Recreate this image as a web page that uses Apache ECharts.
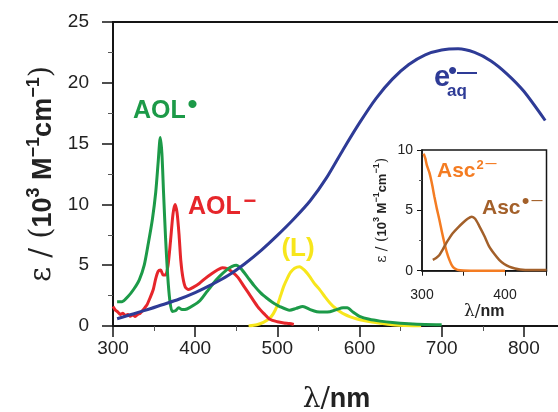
<!DOCTYPE html>
<html><head><meta charset="utf-8">
<script src="https://cdn.jsdelivr.net/npm/echarts@6/dist/echarts.min.js"></script>
<style>html,body{margin:0;padding:0;background:#fff}#c{width:558px;height:412px}</style>
</head><body><div id="c"></div>
<script>
// ---- data (wavelength nm, epsilon 10^3 M^-1 cm^-1) ----
const eaq = [[305,0.6],[320,0.9],[340,1.3],[360,1.75],[380,2.2],[400,2.75],[420,3.4],[440,4.15],[460,5.1],[480,6.2],[500,7.45],[520,8.8],[540,10.3],[560,12.2],[580,14.5],[600,16.7],[620,18.7],[640,20.3],[660,21.5],[680,22.3],[700,22.7],[720,22.8],[740,22.5],[760,21.8],[780,20.7],[800,19.3],[826,16.9]];
const aolRadical = [[305,2.0],[311,2.0],[318,2.4],[325,3.0],[332,3.8],[338,5.0],[343,6.8],[348,8.8],[352,11.0],[355,13.5],[357.5,15.5],[359.5,14.2],[361.5,11.0],[364,7.2],[366.5,4.2],[369,2.2],[372,1.2],[376,1.25],[380,1.5],[384,1.35],[390,1.4],[398,1.7],[406,2.1],[414,2.8],[422,3.5],[430,4.1],[438,4.6],[445,4.9],[450,5.0],[456,4.7],[464,4.0],[472,3.3],[480,2.7],[487,2.3],[493,2.0],[503,1.6],[515,1.3],[523,1.45],[531,1.6],[540,1.35],[548,1.18],[556,1.15],[564,1.18],[572,1.35],[580,1.5],[585,1.5],[592,1.15],[600,0.8],[612,0.55],[625,0.4],[640,0.28],[660,0.18],[680,0.12],[700,0.1]];
const aolAnion = [[300,1.6],[303,1.3],[306,1.15],[309,0.95],[312,1.05],[315,0.85],[318,0.95],[321,0.8],[324,0.92],[327,0.78],[330,0.95],[333,1.05],[337,1.35],[341,1.7],[345,2.3],[349,3.0],[352,3.9],[355,4.5],[358,4.6],[361,4.2],[364,4.2],[367,5.0],[370,7.0],[373,9.2],[375.5,10.0],[378,9.3],[380.5,7.4],[382.5,5.4],[385,4.0],[388,3.2],[392,3.0],[398,3.2],[405,3.5],[412,3.9],[420,4.3],[427,4.6],[433,4.8],[439,4.72],[445,4.45],[452,4.0],[460,3.2],[468,2.4],[476,1.6],[484,1.0],[491,0.55],[500,0.35],[508,0.25],[515,0.2],[520,0.12]];
const ligand = [[465,0],[475,0.1],[483,0.3],[490,0.6],[495,1.0],[500,1.7],[504,2.5],[508,3.3],[512,3.9],[516,4.4],[521,4.75],[527,4.88],[533,4.6],[539,4.1],[545,3.5],[552,2.95],[558,2.4],[564,1.9],[570,1.5],[576,1.2],[582,0.95],[588,0.77],[596,0.6],[605,0.45],[615,0.32],[625,0.22],[640,0.1],[660,0.03],[675,0]];
// inset
const ascDianion = [[302,9.7],[304,9.3],[306,8.7],[309,8.1],[312,7.2],[315,6.1],[318,5.1],[321,4.2],[324,3.2],[327,2.3],[330,1.5],[333,0.9],[336,0.45],[339,0.2],[343,0.07],[350,0.02],[370,0],[400,0]];
const ascRadical = [[313,0.9],[317,1.05],[321,1.3],[325,1.75],[329,2.27],[333,2.7],[337,3.1],[343,3.55],[349,3.95],[355,4.3],[360,4.47],[364,4.3],[369,3.7],[375,2.9],[381,2.0],[387,1.4],[393,0.9],[399,0.55],[405,0.33],[412,0.18],[418,0.1],[430,0.05],[450,0.05]];
const mainXLabels = [300,400,500,600,700,800];
const mainYLabels = [0,5,10,15,20,25];
const insetXLabels = [300,400];
const insetYLabels = [0,5,10];

const C = {blue:'#2e3b96', green:'#1c9a48', red:'#e6262b', yellow:'#f7e61c', orange:'#f47c22', brown:'#a3602a', axis:'#151515', text:'#222'};
const FF = 'Liberation Sans, Arial, Helvetica, sans-serif';

const chart = echarts.init(document.getElementById('c'), null, {renderer:'canvas'});

function lineSeries(data, color, xi, w){
  return {type:'line', data:data, xAxisIndex:xi, yAxisIndex:xi, showSymbol:false, smooth:0.25,
    lineStyle:{color:color, width:w}, itemStyle:{color:color}, silent:true, animation:false};
}
function txt(x, y, text, size, color, weight, align){
  return {type:'text', x:x, y:y, z:100, silent:true,
    style:{text:text, fill:color, fontSize:size, fontWeight:weight||'bold', fontFamily:FF,
      align:align||'left', verticalAlign:'middle', textAlign:align||'left', textVerticalAlign:'middle'}};
}

const axisLineStyle = {color:C.axis, width:2};
chart.setOption({
  animation:false,
  backgroundColor:'#fff',
  textStyle:{fontFamily:FF},
  grid:[
    {left:113, right:-2, top:22, bottom:86, show:true, borderColor:C.axis, borderWidth:2, backgroundColor:'transparent', containLabel:false, outerBoundsMode:'none'},
    {left:422, width:124.5, top:150, height:120.7, show:true, borderColor:C.axis, borderWidth:1.5, backgroundColor:'transparent', containLabel:false, outerBoundsMode:'none'}
  ],
  xAxis:[
    {type:'value', gridIndex:0, min:300, max:844, interval:100,
      axisLine:{lineStyle:axisLineStyle}, splitLine:{show:false},
      axisTick:{length:11, lineStyle:{color:C.axis, width:1.5}},
      minorTick:{show:true, splitNumber:2, length:5, lineStyle:{color:'#555', width:1}},
      axisLabel:{fontSize:19, color:C.text, margin:13, fontFamily:FF,
        formatter:v => mainXLabels.indexOf(v) >= 0 ? String(v) : ''},
      name:'{r|λ/}{b|nm}', nameLocation:'middle', nameGap:60,
      nameTextStyle:{rich:{r:{fontSize:28, fontFamily:'DejaVu Serif, serif', color:C.text}, b:{fontSize:27, fontWeight:'bold', fontFamily:FF, color:C.text}}}},
    {type:'value', gridIndex:1, min:300, max:450, interval:50,
      axisLine:{lineStyle:{color:C.axis, width:1.5}}, splitLine:{show:false},
      axisTick:{length:5, lineStyle:{color:C.axis, width:1}},
      axisLabel:{fontSize:14, color:C.text, margin:17, fontFamily:FF,
        formatter:v => insetXLabels.indexOf(v) >= 0 ? String(v) : ''},
      name:'{r|λ/}{b|nm}', nameLocation:'middle', nameGap:28,
      nameTextStyle:{rich:{r:{fontSize:17, fontFamily:'DejaVu Serif, serif', color:C.text}, b:{fontSize:16, fontWeight:'bold', fontFamily:FF, color:C.text}}}}
  ],
  yAxis:[
    {type:'value', gridIndex:0, min:0, max:25, interval:5,
      axisLine:{show:true, lineStyle:axisLineStyle}, splitLine:{show:false},
      axisTick:{show:true, length:11, lineStyle:{color:C.axis, width:1.5}},
      minorTick:{show:true, splitNumber:2, length:5, lineStyle:{color:'#555', width:1}},
      axisLabel:{fontSize:19, color:C.text, margin:24, fontFamily:FF,
        formatter:v => mainYLabels.indexOf(v) >= 0 ? String(v) : ''},
      name:'{r|ε / (}{b|10}{s|3}{b| M}{s|−1}{b|cm}{s|−1}{r|)}', nameLocation:'middle', nameGap:54,
      nameTextStyle:{rich:{
        r:{fontSize:29, fontFamily:'DejaVu Serif, serif', color:C.text, lineHeight:32, verticalAlign:'bottom'},
        b:{fontSize:27, fontWeight:'bold', fontFamily:FF, color:C.text, lineHeight:32, verticalAlign:'bottom'},
        s:{fontSize:18, fontWeight:'bold', fontFamily:FF, color:C.text, lineHeight:19, verticalAlign:'top'}}}},
    {type:'value', gridIndex:1, min:0, max:10, interval:5,
      axisLine:{show:true, lineStyle:{color:C.axis, width:1.5}}, splitLine:{show:false},
      axisTick:{show:true, length:5, lineStyle:{color:C.axis, width:1}},
      minorTick:{show:true, splitNumber:2, length:3, lineStyle:{color:'#555', width:1}},
      axisLabel:{fontSize:14, color:C.text, margin:9, fontFamily:FF,
        formatter:v => insetYLabels.indexOf(v) >= 0 ? String(v) : ''},
      name:'{r|ε / (}{b|10}{s|3}{b| M}{s|−1}{b|cm}{s|−1}{r|)}', nameLocation:'middle', nameGap:33,
      nameTextStyle:{rich:{
        r:{fontSize:14, fontFamily:'DejaVu Serif, serif', color:C.text, lineHeight:17, verticalAlign:'bottom'},
        b:{fontSize:13, fontWeight:'bold', fontFamily:FF, color:C.text, lineHeight:17, verticalAlign:'bottom'},
        s:{fontSize:9, fontWeight:'bold', fontFamily:FF, color:C.text, lineHeight:10, verticalAlign:'top'}}}}
  ],
  series:[
    lineSeries(ligand, C.yellow, 0, 3),
    lineSeries(aolAnion, C.red, 0, 3),
    lineSeries(aolRadical, C.green, 0, 3),
    lineSeries(eaq, C.blue, 0, 3),
    lineSeries(ascDianion, C.orange, 1, 2.5),
    lineSeries(ascRadical, C.brown, 1, 2.5)
  ],
  graphic:[
    txt(133, 111, 'AOL', 25, C.green),
    txt(192.5, 106, '•', 30, C.green, 'normal', 'center'),
    txt(188, 207.5, 'AOL', 25, C.red),
    txt(250, 202, '−', 22, C.red, 'bold', 'center'),
    txt(298, 249, '(L)', 26, C.yellow, 'bold', 'center'),
    txt(434, 78, 'e', 29, C.blue),
    txt(447, 91, 'aq', 17, C.blue),
    txt(452.5, 71.5, '•', 26, C.blue, 'normal', 'center'),
    txt(467, 72, '—', 20, C.blue, 'bold', 'center'),
    txt(437, 171, 'Asc', 21, C.orange),
    txt(480, 165, '2', 13, C.orange, 'bold', 'center'),
    txt(491, 164, '—', 11, C.orange, 'bold', 'center'),
    txt(482, 208, 'Asc', 21, C.brown),
    txt(525.5, 201.5, '•', 22, C.brown, 'normal', 'center'),
    txt(537, 201, '—', 11, C.brown, 'bold', 'center')
  ]
});
</script></body></html>
